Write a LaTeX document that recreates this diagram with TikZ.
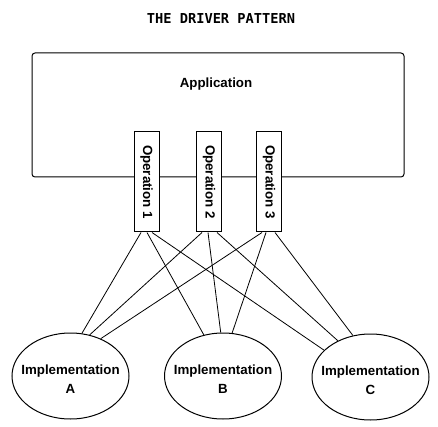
\documentclass[tikz,border=0pt]{standalone}
\usepackage{fontspec}
\setmainfont{Liberation Sans}
\newfontfamily\titlefont{DejaVu Sans Mono}
\usetikzlibrary{shapes.geometric}
\begin{document}
\begin{tikzpicture}[x=1pt,y=-1pt,line width=1pt,
  lbl/.style={font=\fontsize{13.3}{19}\selectfont\bfseries, inner sep=0pt},
  opbox/.style={draw, fill=white, minimum width=25pt, minimum height=100pt, inner sep=0pt},
  impl/.style={draw, ellipse, minimum width=117pt, minimum height=86pt, inner sep=0pt},
  link/.style={line width=0.8pt}]
\useasboundingbox (0,0) rectangle (438,427);
\node[font=\titlefont\bfseries\fontsize{13.7}{15}\selectfont] (title) at (221,19) {THE DRIVER PATTERN};
\node[draw, rounded corners=3pt, minimum width=372pt, minimum height=124pt, inner sep=0pt] (app) at (218,115) {};
\node[lbl] (applbl) at (216,84) {Application};
\node[opbox] (op1) at (146.5,182) {};
\node[opbox] (op2) at (209,182) {};
\node[opbox] (op3) at (269,182) {};
\node[lbl, rotate=-90] (op1l) at (op1) {Operation 1};
\node[lbl, rotate=-90] (op2l) at (op2) {Operation 2};
\node[lbl, rotate=-90] (op3l) at (op3) {Operation 3};
\node[impl] (A) at (70.5,376) {};
\node[impl] (B) at (223,376) {};
\node[impl] (C) at (370.5,377) {};
\node[lbl, align=center] (Al) at (70.5,379) {Implementation\\A};
\node[lbl, align=center] (Bl) at (223,379) {Implementation\\B};
\node[lbl, align=center] (Cl) at (370.5,380) {Implementation\\C};
\draw[link] ([xshift=-5.5pt]op1.south) -- (A.75);
\draw[link] ([xshift=0.5pt]op1.south) -- (B.115);
\draw[link] ([xshift=5.5pt]op1.south) -- (C.150);
\draw[link] ([xshift=-7pt]op2.south) -- (A.65);
\draw[link] ([xshift=-1pt]op2.south) -- (B.93);
\draw[link] ([xshift=8pt]op2.south) -- (C.132);
\draw[link] ([xshift=-7pt]op3.south) -- (A.51);
\draw[link] ([xshift=-3pt]op3.south) -- (B.78);
\draw[link] ([xshift=6pt]op3.south) -- (C.113);
\end{tikzpicture}
\end{document}
